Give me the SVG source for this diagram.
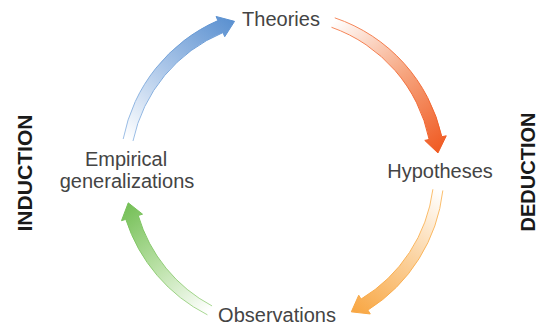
<svg xmlns="http://www.w3.org/2000/svg" width="539" height="328" viewBox="0 0 539 328">
<style>
.lbl{font-family:"Liberation Sans",Arial,sans-serif;font-size:20px;fill:#444444;text-anchor:middle}
.side{font-family:"Liberation Sans",Arial,sans-serif;font-size:21px;font-weight:bold;fill:#1a1a1a;text-anchor:middle}
.fil{stroke:none}
.out{fill:none;stroke-width:1;stroke-linejoin:miter}
</style>
<defs>
<linearGradient id="gBlue" gradientUnits="userSpaceOnUse" x1="128" y1="140" x2="234" y2="21">
<stop offset="0" stop-color="#ffffff"/><stop offset="0.5" stop-color="#a9c5e8"/><stop offset="1" stop-color="#5a90d0"/>
</linearGradient>
<linearGradient id="sBlue" gradientUnits="userSpaceOnUse" x1="128" y1="140" x2="234" y2="21">
<stop offset="0" stop-color="#9dbfe6"/><stop offset="1" stop-color="#5a90d0"/>
</linearGradient>
<linearGradient id="gOrange" gradientUnits="userSpaceOnUse" x1="333" y1="22" x2="438" y2="153">
<stop offset="0" stop-color="#ffffff"/><stop offset="0.5" stop-color="#f6a57f"/><stop offset="1" stop-color="#f05a22"/>
</linearGradient>
<linearGradient id="sOrange" gradientUnits="userSpaceOnUse" x1="333" y1="22" x2="438" y2="153">
<stop offset="0" stop-color="#f58a5e"/><stop offset="1" stop-color="#f05a22"/>
</linearGradient>
<linearGradient id="gYellow" gradientUnits="userSpaceOnUse" x1="438" y1="190" x2="351" y2="312">
<stop offset="0" stop-color="#ffffff"/><stop offset="0.5" stop-color="#fbd09a"/><stop offset="1" stop-color="#f8a642"/>
</linearGradient>
<linearGradient id="sYellow" gradientUnits="userSpaceOnUse" x1="438" y1="190" x2="351" y2="312">
<stop offset="0" stop-color="#fbbf6e"/><stop offset="1" stop-color="#f8a642"/>
</linearGradient>
<linearGradient id="gGreen" gradientUnits="userSpaceOnUse" x1="210" y1="310" x2="128" y2="203">
<stop offset="0" stop-color="#ffffff"/><stop offset="0.5" stop-color="#b8e0a4"/><stop offset="1" stop-color="#74bf56"/>
</linearGradient>
<linearGradient id="sGreen" gradientUnits="userSpaceOnUse" x1="210" y1="310" x2="128" y2="203">
<stop offset="0" stop-color="#a9d893"/><stop offset="1" stop-color="#74bf56"/>
</linearGradient>
</defs>
<g id="connectors">
<path class="fil" fill="url(#gBlue)" d="M123.2,139.0 A163,163 0 0 1 217.86,20.61 L216.09,16.47 L234.52,21.35 L224.72,36.71 L222.96,32.57 A151,151 0 0 0 133.0,140.95 Z"/>
<path class="out" stroke="url(#sBlue)" d="M123.2,139.0 A163,163 0 0 1 217.86,20.61 L216.09,16.47 L234.52,21.35 L224.72,36.71 L222.96,32.57 A151,151 0 0 0 133.0,140.95"/>
<path class="fil" fill="url(#gOrange)" d="M334.75,17.83 A163,163 0 0 1 441.87,136.73 L446.27,135.79 L437.96,152.96 L424.76,140.40 L429.16,139.46 A151,151 0 0 0 331.49,27.28 Z"/>
<path class="out" stroke="url(#sOrange)" d="M334.75,17.83 A163,163 0 0 1 441.87,136.73 L446.27,135.79 L437.96,152.96 L424.76,140.40 L429.16,139.46 A151,151 0 0 0 331.49,27.28"/>
<path class="fil" fill="url(#gYellow)" d="M442.83,190.46 A163,163 0 0 1 367.91,310.11 L370.28,313.94 L351.32,311.87 L358.72,295.22 L361.08,299.05 A151,151 0 0 0 432.90,189.26 Z"/>
<path class="out" stroke="url(#sYellow)" d="M442.83,190.46 A163,163 0 0 1 367.91,310.11 L370.28,313.94 L351.32,311.87 L358.72,295.22 L361.08,299.05 A151,151 0 0 0 432.90,189.26"/>
<path class="fil" fill="url(#gGreen)" d="M207.45,314.83 A163,163 0 0 1 125.81,219.35 L121.51,220.68 L128.26,202.84 L142.53,214.17 L138.23,215.50 A151,151 0 0 0 212.05,305.95 Z"/>
<path class="out" stroke="url(#sGreen)" d="M207.45,314.83 A163,163 0 0 1 125.81,219.35 L121.51,220.68 L128.26,202.84 L142.53,214.17 L138.23,215.50 A151,151 0 0 0 212.05,305.95"/>
</g>
<g id="theories"><text class="lbl" x="281" y="26">Theories</text></g>
<g id="hypotheses"><text class="lbl" x="440" y="178">Hypotheses</text></g>
<g id="observations"><text class="lbl" x="277" y="322">Observations</text></g>
<g id="empirical"><text class="lbl" x="126" y="166">Empirical</text><text class="lbl" x="127" y="188">generalizations</text></g>
<g id="induction"><text class="side" transform="translate(32,173) rotate(-90)" x="0" y="0" textLength="117" lengthAdjust="spacingAndGlyphs">INDUCTION</text></g>
<g id="deduction"><text class="side" transform="translate(535,172) rotate(-90)" x="0" y="0" textLength="119" lengthAdjust="spacingAndGlyphs">DEDUCTION</text></g>
</svg>
